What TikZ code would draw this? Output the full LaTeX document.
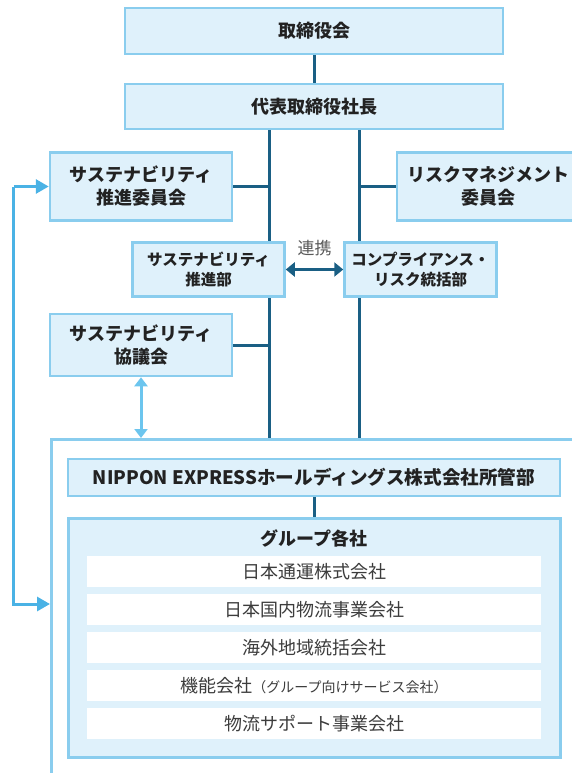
\documentclass[tikz,border=0pt]{standalone}
\usepackage{fontspec}
\setmainfont{Noto Sans CJK JP}
\usetikzlibrary{arrows.meta,backgrounds}
\definecolor{boxfill}{HTML}{DFF1FB}
\definecolor{boxline}{HTML}{8ACDEE}
\definecolor{trunk}{HTML}{1A5F84}
\definecolor{loopline}{HTML}{4AB2E5}
\definecolor{paleline}{HTML}{6CC5EE}
\definecolor{txt}{HTML}{222222}
\definecolor{rowtxt}{HTML}{3C3C3C}
\tikzset{
  unit/.style={draw=boxline, line width=2.5pt, fill=boxfill, text=txt, align=center, inner sep=0pt,
    font=\bfseries\fontsize{18}{23}\selectfont},
  dept/.style={unit, font=\bfseries\fontsize{15.5}{20}\selectfont},
  company/.style={fill=white, text=rowtxt, inner sep=0pt, minimum width=454pt, minimum height=31pt,
    font=\fontsize{18}{22}\selectfont},
  link/.style={draw=trunk, line width=3pt},
}
\begin{document}
\begin{tikzpicture}[x=1pt,y=-1pt]
\useasboundingbox (0,0) rectangle (572,773);
\clip (0,0) rectangle (572,773);

% top
\node[unit, minimum width=378pt, minimum height=46pt] (board) at (314,31) {取締役会};
\node[unit, minimum width=378pt, minimum height=45pt] (ceo) at (314,106.5) {代表取締役社長};

% committees
\node[unit, minimum width=182pt, minimum height=68pt] (promcom) at (141,186.5) {サステナビリティ\\推進委員会};
\node[unit, minimum width=182pt, minimum height=68pt] (riskcom) at (488,186.5) {リスクマネジメント\\委員会};
\node[dept, minimum width=152pt, minimum height=54pt] (promdept) at (208.5,269.5) {サステナビリティ\\推進部};
\node[dept, minimum width=152pt, minimum height=54pt] (compdept) at (420.5,269.5) {コンプライアンス・\\リスク統括部};
\node[unit, minimum width=182pt, minimum height=62pt] (council) at (141,345) {サステナビリティ\\協議会};

% group
\node[draw=boxline, line width=2.5pt, fill=white, minimum width=560pt, minimum height=370pt, anchor=north west] (outer) at (50,438) {};
\node[unit, minimum width=492pt, minimum height=37pt, font=\bfseries\fontsize{18.6}{22}\selectfont] (hq) at (314,477.5) {NIPPON EXPRESSホールディングス株式会社所管部};
\node[unit, line width=3pt, minimum width=492pt, minimum height=239pt] (group) at (314,637.5) {};
\node[text=txt, font=\bfseries\fontsize{18}{22}\selectfont] (grouptitle) at (314,538) {グループ各社};
\foreach \y/\name [count=\i] in {571.5/日本通運株式会社, 609.5/日本国内物流事業会社, 647.5/海外地域統括会社,
    685.5/{機能会社{\fontsize{14}{14}\selectfont （グループ向けサービス会社）}}, 723.5/物流サポート事業会社}
  \node[company] (row\i) at (314,\y) {\name};

% lines
\coordinate (tl) at (269,0);
\coordinate (tr) at (359.5,0);
\coordinate (loop) at (13.5,0);
\coordinate (loopend) at (50,604);
\begin{scope}[on background layer]
\draw[link] (ceo.south -| tl) -- (outer.north -| tl);
\draw[link] (ceo.south -| tr) -- (outer.north -| tr);
\end{scope}
\draw[link] (board) -- (ceo);
\draw[link] (promcom.east) -- (promcom.east -| tl);
\draw[link] (riskcom.west) -- (riskcom.west -| tr);
\draw[link] (council.east) -- (council.east -| tl);
\draw[link] (hq) -- (group);

\node[text=black!65, font=\fontsize{17}{17}\selectfont] (renkei) at (314.5,248) {連携};
\draw[link, {Triangle[length=9pt,width=14pt]}-{Triangle[length=9pt,width=14pt]}] (promdept.east) -- (compdept.west);
\draw[paleline, line width=3pt, {Triangle[length=9pt,width=13pt]}-{Triangle[length=9pt,width=13pt]}] (council.south) -- (council.south |- outer.north);
\draw[loopline, line width=3pt, -{Triangle[length=13pt,width=14pt]}] (promcom.west -| loop) -- (promcom.west);
\draw[loopline, line width=3pt, -{Triangle[length=13pt,width=14pt]}] (promcom.west -| loop) -- (loop |- loopend) -- (loopend);
\end{tikzpicture}
\end{document}
